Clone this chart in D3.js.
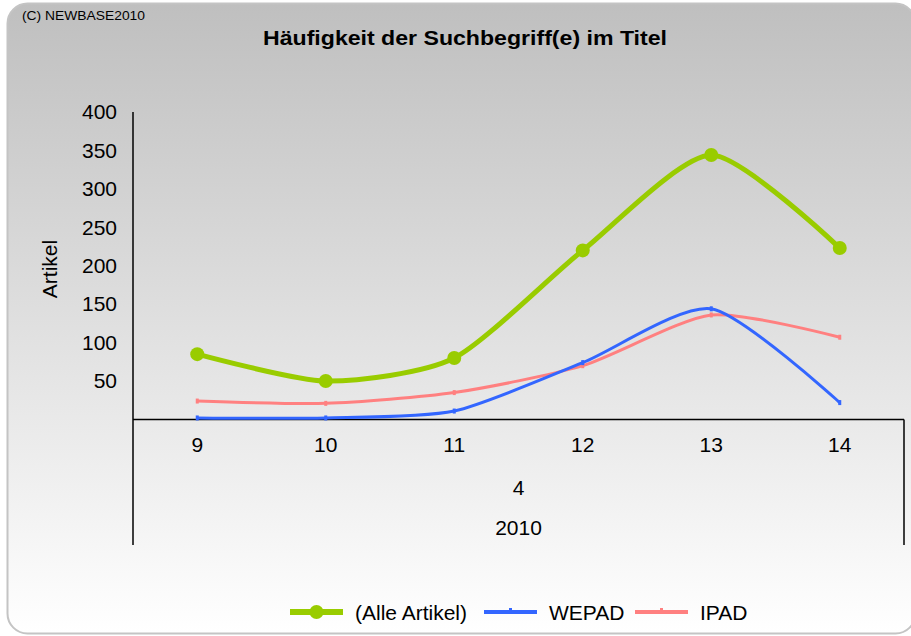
<!DOCTYPE html>
<html>
<head>
<meta charset="utf-8">
<script src="https://cdn.jsdelivr.net/npm/d3@7"></script>
<style>
  body { margin: 0; background: #fff; }
  text { font-family: "Liberation Sans", Arial, sans-serif; fill: #000; }
</style>
</head>
<body>
<svg id="chart"></svg>
<script>
// data
const weeks = ["9", "10", "11", "12", "13", "14"];
const monthLabel = "4";
const yearLabel = "2010";
const seriesNames = ["(Alle Artikel)", "WEPAD", "IPAD"];
const alleArtikel = [85, 50, 80, 220, 344, 223];
const wepad = [2, 2, 11, 74, 144, 22];
const ipad = [24, 21, 35, 70, 136, 107];
const yTicks = [50, 100, 150, 200, 250, 300, 350, 400];

const width = 911,
  height = 636;

const svg = d3.select("#chart").attr("width", width).attr("height", height);

// background with gradient
const defs = svg.append("defs");
const grad = defs
  .append("linearGradient")
  .attr("id", "bg")
  .attr("x1", 0)
  .attr("y1", 0)
  .attr("x2", 0)
  .attr("y2", 1);
grad.append("stop").attr("offset", "0%").attr("stop-color", "#bfbfbf");
grad.append("stop").attr("offset", "100%").attr("stop-color", "#ffffff");

svg
  .append("rect")
  .attr("x", 7.5)
  .attr("y", 3.5)
  .attr("width", 908)
  .attr("height", 630)
  .attr("rx", 20)
  .attr("fill", "url(#bg)")
  .attr("stroke", "#c4c4c4")
  .attr("stroke-width", 2);

// copyright + title
svg
  .append("text")
  .attr("x", 22)
  .attr("y", 20)
  .attr("font-size", 12)
  .attr("textLength", 123)
  .attr("lengthAdjust", "spacingAndGlyphs")
  .text("(C) NEWBASE2010");

svg
  .append("text")
  .attr("x", 465)
  .attr("y", 45)
  .attr("text-anchor", "middle")
  .attr("font-size", 21)
  .attr("font-weight", "bold")
  .attr("textLength", 404)
  .attr("lengthAdjust", "spacingAndGlyphs")
  .text("Häufigkeit der Suchbegriff(e) im Titel");

// scales
const x = d3.scalePoint().domain(weeks).range([133, 904]).padding(0.5);
const y = d3.scaleLinear().domain([0, 400]).range([419.5, 112]);

// y axis
const yAxis = svg
  .append("g")
  .attr("transform", "translate(133,0)")
  .call(d3.axisLeft(y).tickValues(yTicks).tickSize(0).tickPadding(16));
yAxis.select(".domain").remove();
yAxis
  .selectAll("text")
  .attr("font-size", 21)
  .attr("font-family", "Liberation Sans, Arial, sans-serif");

svg
  .append("line")
  .attr("x1", 133)
  .attr("x2", 133)
  .attr("y1", y(400))
  .attr("y2", 545)
  .attr("stroke", "#000")
  .attr("stroke-width", 1.5);

svg
  .append("text")
  .attr("transform", "translate(57,269) rotate(-90)")
  .attr("text-anchor", "middle")
  .attr("font-size", 21)
  .text("Artikel");

// x axis (multi-level)
svg
  .append("line")
  .attr("x1", 133)
  .attr("x2", 904)
  .attr("y1", y(0))
  .attr("y2", y(0))
  .attr("stroke", "#000")
  .attr("stroke-width", 1.5);
svg
  .append("line")
  .attr("x1", 904)
  .attr("x2", 904)
  .attr("y1", y(0))
  .attr("y2", 545)
  .attr("stroke", "#000")
  .attr("stroke-width", 1.5);

svg
  .selectAll(".xlab")
  .data(weeks)
  .enter()
  .append("text")
  .attr("class", "xlab")
  .attr("x", (d) => x(d))
  .attr("y", 452)
  .attr("text-anchor", "middle")
  .attr("font-size", 21)
  .text((d) => d);

const mid = (x.range()[0] + x.range()[1]) / 2;
svg
  .append("text")
  .attr("x", mid)
  .attr("y", 495)
  .attr("text-anchor", "middle")
  .attr("font-size", 21)
  .text(monthLabel);
svg
  .append("text")
  .attr("x", mid)
  .attr("y", 535)
  .attr("text-anchor", "middle")
  .attr("font-size", 21)
  .text(yearLabel);

// lines
const series = [
  { name: seriesNames[0], values: alleArtikel, color: "#99cc00", width: 5, marker: "dot" },
  { name: seriesNames[1], values: wepad, color: "#3366ff", width: 3, marker: "tick" },
  { name: seriesNames[2], values: ipad, color: "#ff8080", width: 3, marker: "tick" },
];

const line = d3
  .line()
  .x((d, i) => x(weeks[i]))
  .y((d) => y(d))
  .curve(d3.curveCardinal.tension(0.3));

// draw order: red, blue, green on top
[series[2], series[1], series[0]].forEach((s) => {
  svg
    .append("path")
    .datum(s.values)
    .attr("d", line)
    .attr("fill", "none")
    .attr("stroke", s.color)
    .attr("stroke-width", s.width)
    .attr("stroke-linejoin", "round");

  if (s.marker === "dot") {
    svg
      .selectAll(null)
      .data(s.values)
      .enter()
      .append("circle")
      .attr("cx", (d, i) => x(weeks[i]))
      .attr("cy", (d) => y(d))
      .attr("r", 7)
      .attr("fill", s.color);
  } else {
    svg
      .selectAll(null)
      .data(s.values)
      .enter()
      .append("rect")
      .attr("x", (d, i) => x(weeks[i]) - 1.5)
      .attr("y", (d) => y(d) - 2.5)
      .attr("width", 3)
      .attr("height", 5)
      .attr("fill", s.color);
  }
});

// legend
const legendX = [290, 484, 635];
const legend = svg
  .selectAll(".legend")
  .data(series)
  .enter()
  .append("g")
  .attr("class", "legend")
  .attr("transform", (d, i) => `translate(${legendX[i]},612)`);

legend
  .append("line")
  .attr("x1", 0)
  .attr("x2", 53)
  .attr("stroke", (d) => d.color)
  .attr("stroke-width", (d) => (d.marker === "dot" ? 6 : 4));

legend
  .filter((d) => d.marker === "dot")
  .append("circle")
  .attr("cx", 26.5)
  .attr("r", 7)
  .attr("fill", (d) => d.color);

legend
  .filter((d) => d.marker !== "dot")
  .append("rect")
  .attr("x", 25)
  .attr("y", -4)
  .attr("width", 3)
  .attr("height", 6)
  .attr("fill", (d) => d.color);

legend
  .append("text")
  .attr("x", 65)
  .attr("y", 8)
  .attr("font-size", 21)
  .text((d) => d.name);
</script>
</body>
</html>
